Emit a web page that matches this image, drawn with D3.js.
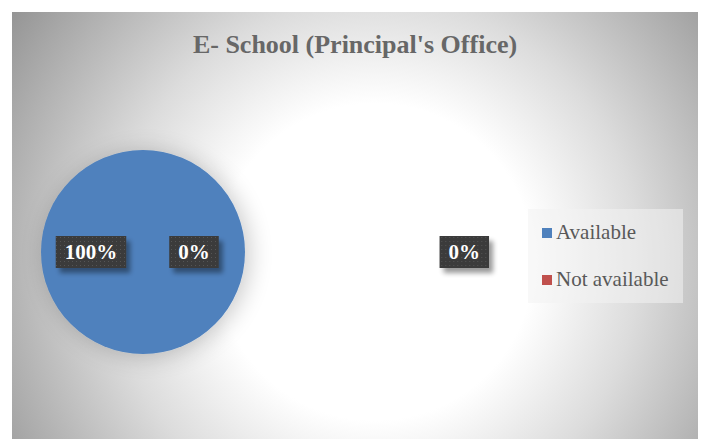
<!DOCTYPE html>
<html>
<head>
<meta charset="utf-8">
<script src="https://cdn.jsdelivr.net/npm/d3@7"></script>
<style>
  html, body { margin: 0; padding: 0; background: #ffffff; }
  svg { display: block; }
</style>
</head>
<body>
<svg id="chart" width="701" height="439"></svg>
<script>
// Chart data
const title = "E- School (Principal's Office)";
const categories = ["Available", "Not available"];
const values = [100, 0];
const colors = ["#4f81bd", "#c0504d"];
// Data labels as shown on the chart (third one belongs to an empty point)
const labelTexts = ["100%", "0%", "0%"];
// Horizontal label offsets expressed in pie radii from the pie centre
const labelOffsets = [-0.51, 0.5, 3.15];

const W = 701, H = 439;
const serif = "'Liberation Serif', 'Times New Roman', serif";
const svg = d3.select("#chart");
const defs = svg.append("defs");

// Chart-area background: radial white glow fading to grey
const bg = defs.append("radialGradient")
  .attr("id", "bgGrad").attr("gradientUnits", "userSpaceOnUse")
  .attr("cx", 375).attr("cy", 262).attr("r", 440);
[[0, "#ffffff"], [0.36, "#ffffff"], [0.6, "#dcdcdc"], [1, "#959595"]]
  .forEach(([o, c]) => bg.append("stop").attr("offset", o).attr("stop-color", c));

// Soft shadow around the pie
const pieShadow = defs.append("filter").attr("id", "pieShadow")
  .attr("x", "-40%").attr("y", "-40%").attr("width", "180%").attr("height", "180%");
pieShadow.append("feGaussianBlur").attr("in", "SourceAlpha").attr("stdDeviation", 12).attr("result", "b");
pieShadow.append("feOffset").attr("in", "b").attr("dx", 4).attr("dy", 2).attr("result", "o");
pieShadow.append("feComponentTransfer").attr("in", "o").attr("result", "s")
  .append("feFuncA").attr("type", "linear").attr("slope", 0.22);
const pm = pieShadow.append("feMerge");
pm.append("feMergeNode").attr("in", "s");
pm.append("feMergeNode").attr("in", "SourceGraphic");

// Shadow for data label boxes
const lblShadow = defs.append("filter").attr("id", "lblShadow")
  .attr("x", "-30%").attr("y", "-40%").attr("width", "170%").attr("height", "190%");
lblShadow.append("feGaussianBlur").attr("in", "SourceAlpha").attr("stdDeviation", 2.5).attr("result", "b");
lblShadow.append("feOffset").attr("in", "b").attr("dx", 4).attr("dy", 5).attr("result", "o");
lblShadow.append("feComponentTransfer").attr("in", "o").attr("result", "s")
  .append("feFuncA").attr("type", "linear").attr("slope", 0.4);
const lm = lblShadow.append("feMerge");
lm.append("feMergeNode").attr("in", "s");
lm.append("feMergeNode").attr("in", "SourceGraphic");

// Dotted texture for label boxes
const pat = defs.append("pattern").attr("id", "dots")
  .attr("patternUnits", "userSpaceOnUse").attr("width", 4).attr("height", 4);
pat.append("rect").attr("width", 4).attr("height", 4).attr("fill", "#3a3a3a");
pat.append("rect").attr("x", 1).attr("y", 1).attr("width", 1).attr("height", 1).attr("fill", "#555555");

// Chart area
svg.append("rect")
  .attr("x", 12).attr("y", 12).attr("width", 686).attr("height", H - 12)
  .attr("fill", "url(#bgGrad)");

// Title
svg.append("text")
  .attr("x", 355).attr("y", 53)
  .attr("text-anchor", "middle")
  .attr("font-family", serif)
  .attr("font-weight", "bold").attr("font-size", 26)
  .attr("fill", "#676767")
  .text(title);

// Pie
const cx = 143, cy = 252, radius = 102;
const pie = d3.pie().sort(null).value(d => d)(values);
const arc = d3.arc().innerRadius(0).outerRadius(radius);

const g = svg.append("g").attr("transform", `translate(${cx},${cy})`);
g.append("g").attr("filter", "url(#pieShadow)")
  .selectAll("path")
  .data(pie)
  .join("path")
  .attr("d", arc)
  .attr("fill", (d, i) => colors[i]);

// Data labels
const labels = g.selectAll("g.lbl")
  .data(labelTexts)
  .join("g").attr("class", "lbl")
  .attr("transform", (d, i) => `translate(${labelOffsets[i] * radius},0)`);

labels.each(function (d) {
  const sel = d3.select(this);
  const t = sel.append("text")
    .attr("text-anchor", "middle")
    .attr("y", 7)
    .attr("font-family", serif)
    .attr("font-weight", "bold").attr("font-size", 21)
    .attr("fill", "#ffffff")
    .text(d);
  const w = t.node().getComputedTextLength() + 18;
  sel.insert("rect", "text")
    .attr("x", -w / 2).attr("y", -16)
    .attr("width", w).attr("height", 32)
    .attr("fill", "url(#dots)")
    .attr("filter", "url(#lblShadow)");
});

// Legend
const legend = svg.append("g").attr("transform", "translate(528,209)");
legend.append("rect")
  .attr("width", 155).attr("height", 94)
  .attr("fill", "#f2f2f2").attr("fill-opacity", 0.55);

const items = legend.selectAll("g.item")
  .data(categories)
  .join("g").attr("class", "item")
  .attr("transform", (d, i) => `translate(14,${19 + i * 47})`);
items.append("rect")
  .attr("width", 10).attr("height", 10)
  .attr("fill", (d, i) => colors[i]);
items.append("text")
  .attr("x", 14).attr("y", 11)
  .attr("font-family", serif)
  .attr("font-size", 21)
  .attr("fill", "#595959")
  .text(d => d);
</script>
</body>
</html>
